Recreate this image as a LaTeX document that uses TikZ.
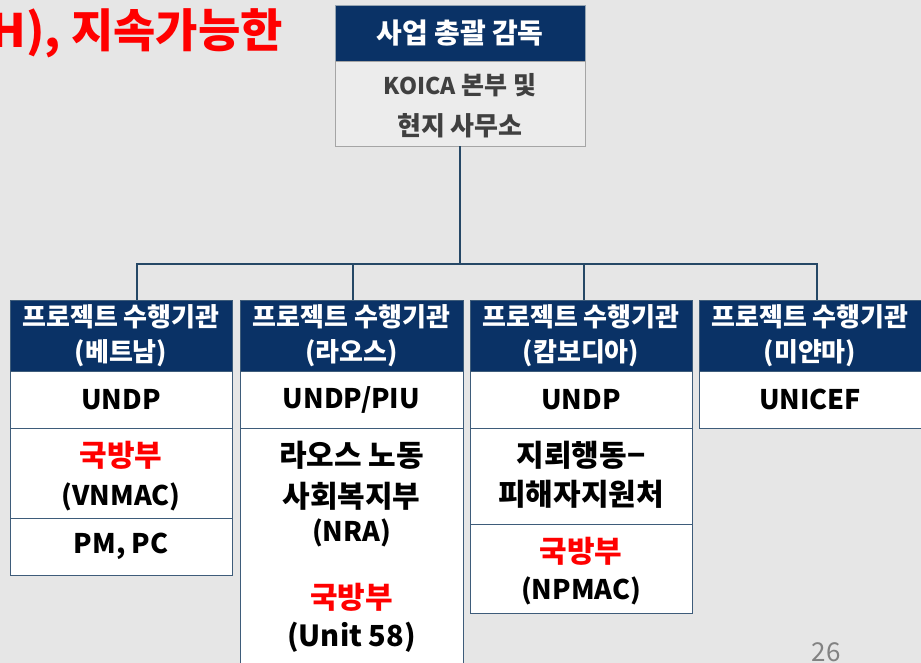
\documentclass[tikz,border=0pt]{standalone}
\usepackage{fontspec}
\setmainfont{Noto Sans CJK KR}
\usetikzlibrary{positioning}
\definecolor{navy}{RGB}{10,50,102}
\definecolor{bord}{RGB}{62,92,122}
\definecolor{conn}{RGB}{38,72,102}
\definecolor{bg}{RGB}{230,230,230}
\definecolor{kred}{RGB}{255,0,0}
\definecolor{kgray}{RGB}{64,64,64}
\tikzset{
  fs/.style={font=\fontsize{#1}{#1}\selectfont\bfseries},
  hdr/.style={draw=bord, line width=0.8pt, fill=navy, text=white, minimum width=222pt, minimum height=71pt, inner sep=0pt, align=center, font=\fontsize{26}{35}\selectfont\bfseries},
  cell/.style={draw=bord, line width=0.8pt, fill=white, minimum width=222pt, inner sep=0pt},
  txt/.style={inner sep=0pt, align=center},
  connline/.style={draw=conn, line width=1.4pt},
}
\begin{document}
\begin{tikzpicture}[x=1pt,y=-1pt]
\fill[bg] (0,0) rectangle (921,663);
\useasboundingbox (0,0) rectangle (921,663);
% title fragment
\node[txt, anchor=east, text=kred, fs=46] (title) at (283,33) {H), 지속가능한};
% top box
\node[draw={rgb,255:red,150;green,165;blue,178}, line width=0.8pt, fill=navy, text=white, minimum width=250pt, minimum height=56pt, inner sep=0pt, fs=28] (top1) at (460,33) {사업 총괄 감독};
\node[draw={rgb,255:red,165;green,165;blue,165}, line width=0.8pt, fill={rgb,255:red,236;green,236;blue,236}, minimum width=250pt, minimum height=85pt, inner sep=0pt] (top2) at (460,103.5) {};
\node[txt, text=kgray, font=\fontsize{25}{25}\selectfont\bfseries] (k1) at (460,85) {\fontsize{23}{23}\selectfont KOICA \fontsize{25}{25}\selectfont 본부 및};
\node[txt, text=kgray, font=\fontsize{26}{26}\selectfont\bfseries] (k2) at (460,126) {현지 사무소};
% column headers
\node[hdr] (h1) at (121,335.5) {프로젝트 수행기관\\(베트남)};
\node[hdr, minimum width=223pt] (h2) at (351.5,335.5) {프로젝트 수행기관\\(라오스)};
\node[hdr] (h3) at (581,335.5) {프로젝트 수행기관\\(캄보디아)};
\node[hdr] (h4) at (810,335.5) {프로젝트 수행기관\\(미얀마)};
% column 1
\node[cell, minimum height=57pt, fs=27] (r11) at (121,399.5) {UNDP};
\node[cell, minimum height=90pt] (r12) at (121,473) {};
\node[txt, text=kred, fs=30] (t12a) at (121,455) {국방부};
\node[txt, fs=27] (t12b) at (121,497) {(VNMAC)};
\node[cell, minimum height=57pt, fs=27] (r13) at (121,546.5) {PM, PC};
% column 2
\node[cell, minimum width=223pt, minimum height=57pt, fs=27] (r21) at (351.5,399.5) {UNDP/PIU};
\node[cell, minimum width=223pt, minimum height=240pt] (r22) at (351.5,548) {};
\node[txt, fs=30] (t22a) at (351.5,455) {라오스 노동};
\node[txt, fs=30] (t22b) at (351.5,496) {사회복지부};
\node[txt, fs=27] (t22c) at (351.5,533) {(NRA)};
\node[txt, text=kred, fs=30] (t22d) at (351.5,597) {국방부};
\node[txt, fs=29] (t22e) at (351.5,637) {(Unit 58)};
% column 3
\node[cell, minimum height=57pt, fs=27] (r31) at (581,399.5) {UNDP};
\node[cell, minimum height=96pt] (r32) at (581,476) {};
\node[txt, fs=30] (t32a) at (581,455) {지뢰행동−};
\node[txt, fs=30] (t32b) at (581,494) {피해자지원처};
\node[cell, minimum height=89pt] (r33) at (581,568.5) {};
\node[txt, text=kred, fs=30] (t33a) at (581,551) {국방부};
\node[txt, fs=27] (t33b) at (581,591) {(NPMAC)};
% column 4
\node[cell, minimum height=57pt, fs=27] (r41) at (810,399.5) {UNICEF};
% connectors
\coordinate (bus) at (460,264);
\draw[connline] (top2.south) -- (bus);
\draw[connline] ([xshift=16pt]h1.north) |- (bus) -| ([xshift=7pt]h4.north);
\draw[connline] ([xshift=1.5pt]h2.north) -- ([xshift=1.5pt]h2.north |- bus);
\draw[connline] ([xshift=3pt]h3.north) -- ([xshift=3pt]h3.north |- bus);
% page number
\node[txt, text={rgb,255:red,130;green,130;blue,130}, font=\fontsize{26}{26}\selectfont] (pg) at (826,652) {26};
\end{tikzpicture}
\end{document}
